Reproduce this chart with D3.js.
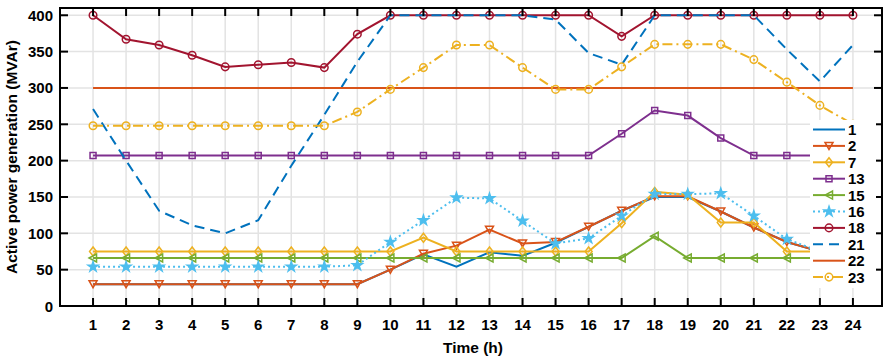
<!DOCTYPE html>
<html>
<head>
<meta charset="utf-8">
<script src="https://cdn.jsdelivr.net/npm/d3@7"></script>
<style>
  body { margin: 0; background: #fff; }
  svg text { font-family: "Liberation Sans", Arial, sans-serif; font-weight: bold; fill: #000; }
</style>
</head>
<body>
<svg width="887" height="360"></svg>
<script>
// hours on the x axis
var hours = [1,2,3,4,5,6,7,8,9,10,11,12,13,14,15,16,17,18,19,20,21,22,23,24];
var yTicks = [0,50,100,150,200,250,300,350,400];

// generator output per bus (MVAr)
var g1  = [30,30,30,30,30,30,30,30,30,50,71,54,74,69,87,109,131,150,150,130,108,88,75,75];
var g2  = [30,30,30,30,30,30,30,30,30,50,72,83,105,86,88,109,131,151,151,130,108,88,75,75];
var g7  = [75,75,75,75,75,75,75,75,75,75,94,75,75,75,75,75,114,157,153,115,115,75,75,75];
var g13 = [207,207,207,207,207,207,207,207,207,207,207,207,207,207,207,207,237,269,262,231,207,207,207,207];
var g15 = [66,66,66,66,66,66,66,66,66,66,66,66,66,66,66,66,66,96,66,66,66,66,66,66];
var g16 = [54,54,54,54,54,54,54,54,56,88,118,149,148,117,86,93,124,154,154,155,124,92,75,75];
var g18 = [400,367,359,345,329,332,335,328,374,400,400,400,400,400,400,400,371,400,400,400,400,400,400,400];
var g21 = [271,200,131,111,100,118,193,263,336,400,400,400,400,400,394,348,332,400,400,400,400,353,309,359];
var g22 = [300,300,300,300,300,300,300,300,300,300,300,300,300,300,300,300,300,300,300,300,300,300,300,300];
var g23 = [248,248,248,248,248,248,248,248,267,298,328,359,359,328,298,298,329,360,360,360,339,308,276,250];

var series = [
  {name: "1",  values: g1,  color: "#0072BD", dash: null,        marker: null},
  {name: "2",  values: g2,  color: "#D95319", dash: null,        marker: "tri-down"},
  {name: "7",  values: g7,  color: "#EDB120", dash: null,        marker: "diamond"},
  {name: "13", values: g13, color: "#7E2F8E", dash: null,        marker: "square"},
  {name: "15", values: g15, color: "#77AC30", dash: null,        marker: "tri-left"},
  {name: "16", values: g16, color: "#4DBEEE", dash: "2,3",       marker: "star"},
  {name: "18", values: g18, color: "#A2142F", dash: null,        marker: "circle"},
  {name: "21", values: g21, color: "#0072BD", dash: "10,6",      marker: null},
  {name: "22", values: g22, color: "#D95319", dash: null,        marker: null},
  {name: "23", values: g23, color: "#EDB120", dash: "10,4,2,4",  marker: "circle"}
];

var svg = d3.select("svg");
var pLeft = 60, pRight = 882, pTop = 8, pBottom = 306;

var x = d3.scaleLinear().domain([0, 24.88]).range([pLeft, pRight]);
var y = d3.scaleLinear().domain([0, 410]).range([pBottom, pTop]);

// grid
var grid = svg.append("g").attr("stroke", "#e3e3e3").attr("stroke-width", 1.5);
grid.selectAll("line.v").data(hours).enter().append("line")
    .attr("x1", function(d) { return x(d); }).attr("x2", function(d) { return x(d); })
    .attr("y1", pTop).attr("y2", pBottom);
grid.selectAll("line.h").data(yTicks.slice(1)).enter().append("line")
    .attr("x1", pLeft).attr("x2", pRight)
    .attr("y1", function(d) { return y(d); }).attr("y2", function(d) { return y(d); });

// marker shapes
function markerPath(type) {
  if (type == "circle") return d3.symbol(d3.symbolCircle, 45)();
  if (type == "square") return "M-3,-3H3V3H-3Z";
  if (type == "diamond") return "M0,-4.5L3.5,0L0,4.5L-3.5,0Z";
  if (type == "tri-down") return "M-4,-3.5H4L0,3.5Z";
  if (type == "tri-left") return "M-4,0L3.5,-4V4Z";
  if (type == "star") return d3.symbol(d3.symbolStar, 30)();
  return null;
}

var line = d3.line()
    .x(function(d, i) { return x(hours[i]); })
    .y(function(d) { return y(d); });

var plot = svg.append("g");
series.forEach(function(s) {
  var g = plot.append("g");
  g.append("path")
      .attr("d", line(s.values))
      .attr("fill", "none")
      .attr("stroke", s.color)
      .attr("stroke-width", 2)
      .attr("stroke-dasharray", s.dash);
  if (s.marker) {
    g.selectAll("path.m").data(s.values).enter().append("path")
        .attr("class", "m")
        .attr("transform", function(d, i) { return "translate(" + x(hours[i]) + "," + y(d) + ")"; })
        .attr("d", markerPath(s.marker))
        .attr("fill", s.marker == "star" ? s.color : "none")
        .attr("stroke", s.color)
        .attr("stroke-width", 1.5);
  }
});

// axes box and ticks (inward, all four sides)
var ax = svg.append("g").attr("stroke", "#000").attr("stroke-width", 2);
ax.append("rect").attr("x", pLeft).attr("y", pTop)
    .attr("width", pRight - pLeft).attr("height", pBottom - pTop).attr("fill", "none");
hours.forEach(function(h) {
  ax.append("line").attr("x1", x(h)).attr("x2", x(h)).attr("y1", pBottom).attr("y2", pBottom - 8);
  ax.append("line").attr("x1", x(h)).attr("x2", x(h)).attr("y1", pTop).attr("y2", pTop + 8);
});
yTicks.forEach(function(v) {
  ax.append("line").attr("x1", pLeft).attr("x2", pLeft + 8).attr("y1", y(v)).attr("y2", y(v));
  ax.append("line").attr("x1", pRight).attr("x2", pRight - 8).attr("y1", y(v)).attr("y2", y(v));
});

// tick labels
svg.append("g").selectAll("text").data(hours).enter().append("text")
    .attr("x", function(d) { return x(d); })
    .attr("y", 329.5)
    .attr("text-anchor", "middle")
    .style("font-size", "15px")
    .text(function(d) { return d; });
svg.append("g").selectAll("text").data(yTicks).enter().append("text")
    .attr("x", 53)
    .attr("y", function(d) { return y(d) + 5.5; })
    .attr("text-anchor", "end")
    .style("font-size", "15px")
    .text(function(d) { return d; });

svg.append("text")
    .attr("x", x(12.5)).attr("y", 353)
    .attr("text-anchor", "middle")
    .style("font-size", "15.5px")
    .text("Time (h)");
svg.append("text")
    .attr("transform", "translate(16.5," + ((pTop + pBottom) / 2) + ") rotate(-90)")
    .attr("text-anchor", "middle")
    .style("font-size", "15.5px")
    .text("Active power generation (MVAr)");

// legend
var legend = svg.append("g");
legend.append("rect").attr("x", 810).attr("y", 120).attr("width", 66).attr("height", 168).attr("fill", "#fff");
series.forEach(function(s, i) {
  var ly = 129.5 + i * 16.4;
  legend.append("line")
      .attr("x1", 813).attr("x2", 845).attr("y1", ly).attr("y2", ly)
      .attr("stroke", s.color).attr("stroke-width", 2)
      .attr("stroke-dasharray", s.dash);
  if (s.marker) {
    legend.append("path")
        .attr("transform", "translate(829," + ly + ")")
        .attr("d", markerPath(s.marker))
        .attr("fill", s.marker == "star" ? s.color : "none")
        .attr("stroke", s.color).attr("stroke-width", 1.5);
  }
  legend.append("text")
      .attr("x", 848).attr("y", ly + 5.5)
      .style("font-size", "15px")
      .text(s.name);
});
</script>
</body>
</html>
